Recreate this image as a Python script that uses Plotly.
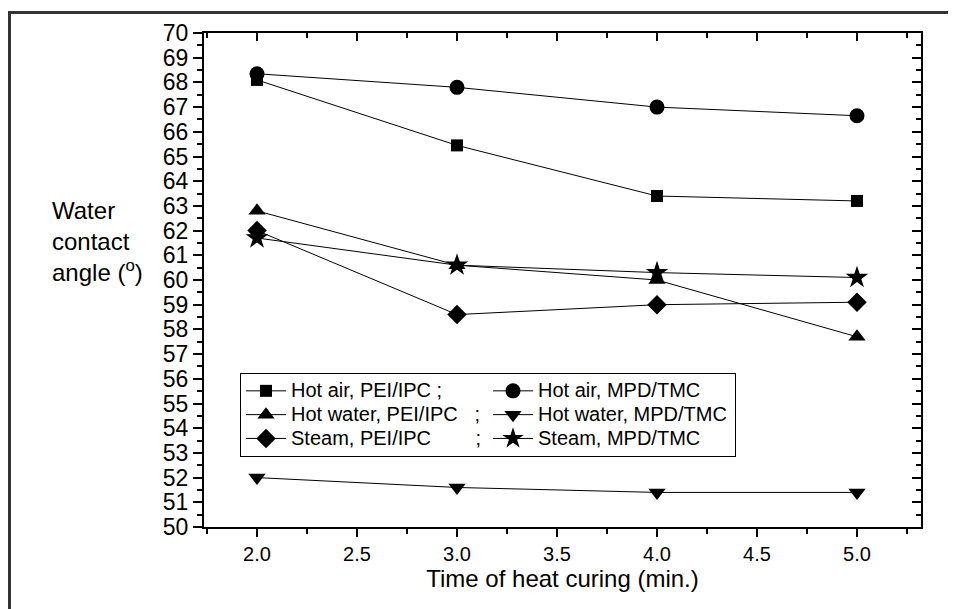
import plotly.graph_objects as go

time_min = [2.0, 3.0, 4.0, 5.0]

hot_air_pei = [68.1, 65.45, 63.4, 63.2]
hot_air_mpd = [68.35, 67.8, 67.0, 66.65]
hot_water_pei = [62.8, 60.6, 60.0, 57.7]
hot_water_mpd = [52.0, 51.6, 51.4, 51.4]
steam_pei = [62.0, 58.6, 59.0, 59.1]
steam_mpd = [61.7, 60.6, 60.3, 60.1]

NB = "&nbsp;"
series_labels = [
    "Hot air, PEI/IPC" + NB * 1 + ";",
    "Hot air, MPD/TMC",
    "Hot water, PEI/IPC" + NB * 3 + ";",
    "Hot water, MPD/TMC",
    "Steam, PEI/IPC" + NB * 8 + ";",
    "Steam, MPD/TMC",
]
series_values = [hot_air_pei, hot_air_mpd, hot_water_pei, hot_water_mpd, steam_pei, steam_mpd]
symbols = ["square", "circle", "triangle-up", "triangle-down", "diamond", "star"]
sizes = [12, 15, 15, 15, 15, 17]

y_title = "Water<br>contact<br>angle (<sup>o</sup>)"
x_title = "Time of heat curing (min.)"

FONT = "Liberation Sans, Arial, sans-serif"

# page is offset by the 8px body margin; geometry below is in figure pixels
W, H = 948, 601
L, T, R, B = 196, 22, 35, 82
PW, PH = W - L - R, H - T - B


def px_x(fx):
    return (fx - L) / PW


def px_y(fy):
    return (H - B - fy) / PH


fig = go.Figure()
for label, vals, sym, sz in zip(series_labels, series_values, symbols, sizes):
    fig.add_trace(go.Scatter(
        x=time_min, y=vals,
        name='<span style="font-size:20px">' + label + "</span>",
        mode="lines+markers",
        line=dict(color="black", width=1),
        marker=dict(symbol=sym, size=sz, color="black", line=dict(width=0)),
    ))

# helper trace for mirrored (inside) ticks on top/right
fig.add_trace(go.Scatter(x=[], y=[], xaxis="x2", yaxis="y2", showlegend=False, hoverinfo="skip"))

xr = [1.735, 5.32]
yr = [50, 70]

fig.update_layout(
    width=W, height=H,
    margin=dict(l=L, r=R, t=T, b=B),
    paper_bgcolor="white", plot_bgcolor="white",
    font=dict(family=FONT, color="black"),
    showlegend=True,
    legend=dict(
        orientation="h", x=px_x(232), y=px_y(364), xanchor="left", yanchor="top",
        bgcolor="white", bordercolor="black", borderwidth=1,
        font=dict(family=FONT, size=16, color="black"),
        entrywidth=192, itemwidth=40, traceorder="normal",
    ),
    xaxis=dict(
        range=xr, showgrid=False, zeroline=False,
        showline=True, linecolor="black", linewidth=2, mirror=True,
        ticks="outside", ticklen=8, tickwidth=2, tickcolor="black",
        tick0=2.0, dtick=0.5, tickformat=".1f",
        minor=dict(ticks="outside", ticklen=5, tickwidth=2, tickcolor="black", dtick=0.25, tick0=2.0),
        tickfont=dict(family=FONT, size=20, color="black"),
        title=dict(text=x_title, font=dict(family=FONT, size=24, color="black"), standoff=6),
    ),
    yaxis=dict(
        range=yr, showgrid=False, zeroline=False,
        showline=True, linecolor="black", linewidth=2, mirror=True,
        ticks="outside", ticklen=9, tickwidth=2, tickcolor="black",
        tick0=50, dtick=1,
        minor=dict(ticks="outside", ticklen=5, tickwidth=2, tickcolor="black", dtick=0.5, tick0=50),
        tickfont=dict(family="Liberation Sans Narrow, Arial Narrow, Liberation Sans, Arial", size=23, color="black"),
    ),
    xaxis2=dict(
        overlaying="x", side="top", matches="x", range=xr, showgrid=False, zeroline=False,
        showline=False, showticklabels=False,
        ticks="inside", ticklen=8, tickwidth=2, tickcolor="black",
        tick0=2.0, dtick=0.5,
        minor=dict(ticks="inside", ticklen=5, tickwidth=2, tickcolor="black", dtick=0.25, tick0=2.0),
    ),
    yaxis2=dict(
        overlaying="y", side="right", matches="y", range=yr, showgrid=False, zeroline=False,
        showline=False, showticklabels=False,
        ticks="inside", ticklen=9, tickwidth=2, tickcolor="black",
        tick0=50, dtick=1,
        minor=dict(ticks="inside", ticklen=5, tickwidth=2, tickcolor="black", dtick=0.5, tick0=50),
    ),
)

fig.add_annotation(
    text=y_title, xref="paper", yref="paper",
    x=px_x(42), y=px_y(232), xanchor="left", yanchor="middle",
    align="left", showarrow=False,
    font=dict(family=FONT, size=24, color="black"),
)

# outer frame around the whole figure
fig.add_shape(
    type="rect", xref="paper", yref="paper",
    x0=px_x(1.5), x1=px_x(W + 10),
    y0=px_y(H + 10), y1=px_y(1.5),
    line=dict(color="#333333", width=3), fillcolor="rgba(0,0,0,0)", layer="above",
)

fig.write_html("out.html")
